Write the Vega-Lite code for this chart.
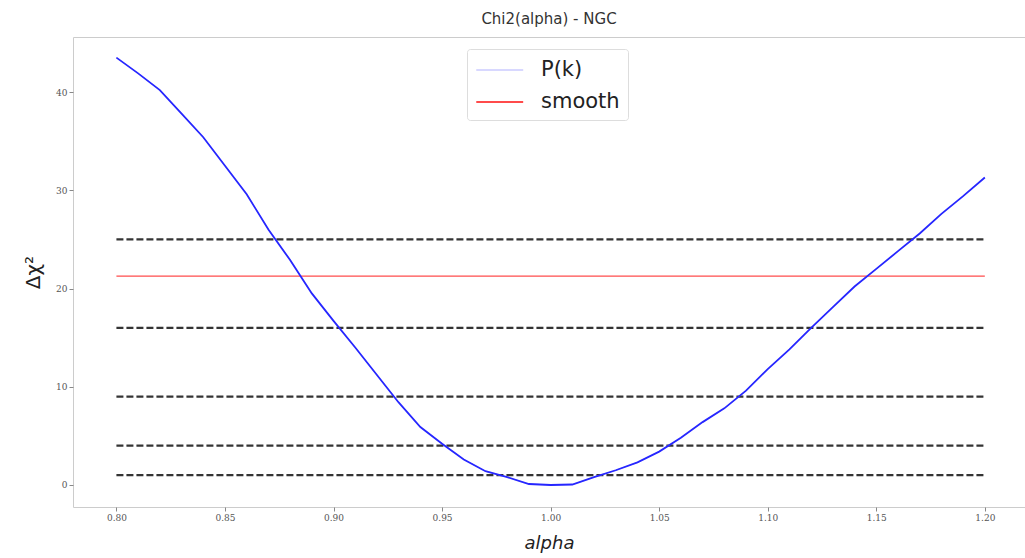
{
  "$schema": "https://vega.github.io/schema/vega-lite/v6.json",
  "autosize": "none",
  "padding": {"left": 73, "top": 37, "right": 0, "bottom": 51},
  "width": 952,
  "height": 470,
  "background": "white",
  "title": {"text": "Chi2(alpha) - NGC", "fontSize": 15, "font": "DejaVu Sans", "fontWeight": "normal", "color": "#333333", "offset": 10},
  "config": {
    "view": {"stroke": "#cccccc", "strokeWidth": 1},
    "axis": {"grid": false, "domain": false, "tickColor": "#888888", "tickSize": 4, "labelFontSize": 9, "labelColor": "#555555", "labelFont": "DejaVu Serif", "titleFont": "DejaVu Sans", "titleFontWeight": "normal", "titleColor": "#222222"}
  },
  "datasets": {
    "curve": [
      {"alpha": 0.80, "chi2": 43.5, "series": "P(k)"}, {"alpha": 0.81, "chi2": 41.9, "series": "P(k)"}, {"alpha": 0.82, "chi2": 40.2, "series": "P(k)"},
      {"alpha": 0.83, "chi2": 37.8, "series": "P(k)"}, {"alpha": 0.84, "chi2": 35.4, "series": "P(k)"}, {"alpha": 0.85, "chi2": 32.5, "series": "P(k)"},
      {"alpha": 0.86, "chi2": 29.6, "series": "P(k)"}, {"alpha": 0.87, "chi2": 26.0, "series": "P(k)"}, {"alpha": 0.88, "chi2": 22.9, "series": "P(k)"},
      {"alpha": 0.89, "chi2": 19.5, "series": "P(k)"}, {"alpha": 0.90, "chi2": 16.7, "series": "P(k)"}, {"alpha": 0.91, "chi2": 14.0, "series": "P(k)"},
      {"alpha": 0.92, "chi2": 11.2, "series": "P(k)"}, {"alpha": 0.93, "chi2": 8.4, "series": "P(k)"}, {"alpha": 0.94, "chi2": 5.9, "series": "P(k)"},
      {"alpha": 0.95, "chi2": 4.2, "series": "P(k)"}, {"alpha": 0.96, "chi2": 2.6, "series": "P(k)"}, {"alpha": 0.97, "chi2": 1.4, "series": "P(k)"},
      {"alpha": 0.98, "chi2": 0.8, "series": "P(k)"}, {"alpha": 0.99, "chi2": 0.1, "series": "P(k)"}, {"alpha": 1.00, "chi2": 0.0, "series": "P(k)"},
      {"alpha": 1.01, "chi2": 0.05, "series": "P(k)"}, {"alpha": 1.02, "chi2": 0.8, "series": "P(k)"}, {"alpha": 1.03, "chi2": 1.5, "series": "P(k)"},
      {"alpha": 1.04, "chi2": 2.3, "series": "P(k)"}, {"alpha": 1.05, "chi2": 3.4, "series": "P(k)"}, {"alpha": 1.06, "chi2": 4.8, "series": "P(k)"},
      {"alpha": 1.07, "chi2": 6.4, "series": "P(k)"}, {"alpha": 1.08, "chi2": 7.8, "series": "P(k)"}, {"alpha": 1.09, "chi2": 9.6, "series": "P(k)"},
      {"alpha": 1.10, "chi2": 11.8, "series": "P(k)"}, {"alpha": 1.11, "chi2": 13.8, "series": "P(k)"}, {"alpha": 1.12, "chi2": 16.0, "series": "P(k)"},
      {"alpha": 1.13, "chi2": 18.1, "series": "P(k)"}, {"alpha": 1.14, "chi2": 20.2, "series": "P(k)"}, {"alpha": 1.15, "chi2": 22.0, "series": "P(k)"},
      {"alpha": 1.16, "chi2": 23.8, "series": "P(k)"}, {"alpha": 1.17, "chi2": 25.6, "series": "P(k)"}, {"alpha": 1.18, "chi2": 27.6, "series": "P(k)"},
      {"alpha": 1.19, "chi2": 29.4, "series": "P(k)"}, {"alpha": 1.20, "chi2": 31.3, "series": "P(k)"}
    ],
    "levels": [
      {"level": 1, "x0": 0.80, "x1": 1.20}, {"level": 4, "x0": 0.80, "x1": 1.20},
      {"level": 9, "x0": 0.80, "x1": 1.20}, {"level": 16, "x0": 0.80, "x1": 1.20},
      {"level": 25, "x0": 0.80, "x1": 1.20}
    ],
    "smooth": [{"series": "smooth", "value": 21.27, "x0": 0.80, "x1": 1.20}]
  },
  "layer": [
    {
      "data": {"name": "levels"},
      "mark": {"type": "rule", "color": "#111111", "strokeWidth": 2.2, "strokeDash": [7, 3], "opacity": 0.85},
      "encoding": {
        "x": {"field": "x0", "type": "quantitative", "scale": {"domain": [0.78, 1.2185], "nice": false, "zero": false},
              "axis": {"values": [0.80, 0.85, 0.90, 0.95, 1.00, 1.05, 1.10, 1.15, 1.20], "format": ".2f", "title": "alpha", "titleFontSize": 18, "titleFontStyle": "italic", "titlePadding": 12}},
        "x2": {"field": "x1"},
        "y": {"field": "level", "type": "quantitative", "scale": {"domain": [-2.24, 45.6], "nice": false, "zero": false},
              "axis": {"values": [0, 10, 20, 30, 40], "title": "Δχ²", "titleFontSize": 20, "titlePadding": 12}}
      }
    },
    {
      "data": {"name": "smooth"},
      "mark": {"type": "rule", "strokeWidth": 1.2, "opacity": 0.7},
      "encoding": {
        "x": {"field": "x0", "type": "quantitative"},
        "x2": {"field": "x1"},
        "y": {"field": "value", "type": "quantitative"},
        "color": {"field": "series", "type": "nominal",
                  "scale": {"domain": ["P(k)", "smooth"], "range": ["#c8c8ff", "#ff0000"]},
                  "legend": {"title": null, "orient": "none", "legendX": 394, "legendY": 12, "symbolType": "M-1,0H3", "symbolStrokeWidth": 2, "symbolSize": 550, "labelFontSize": 21, "labelFont": "DejaVu Sans", "labelColor": "#222222", "rowPadding": 9, "padding": 8, "strokeColor": "#dddddd", "fillColor": "white", "cornerRadius": 3, "labelOffset": 40}}
      }
    },
    {
      "data": {"name": "curve"},
      "mark": {"type": "line", "strokeWidth": 1},
      "encoding": {
        "x": {"field": "alpha", "type": "quantitative"},
        "y": {"field": "chi2", "type": "quantitative"},
        "color": {"field": "series", "type": "nominal"}
      }
    },
    {
      "data": {"name": "curve"},
      "mark": {"type": "line", "color": "#2626ff", "strokeWidth": 1.8},
      "encoding": {
        "x": {"field": "alpha", "type": "quantitative"},
        "y": {"field": "chi2", "type": "quantitative"}
      }
    }
  ]
}
